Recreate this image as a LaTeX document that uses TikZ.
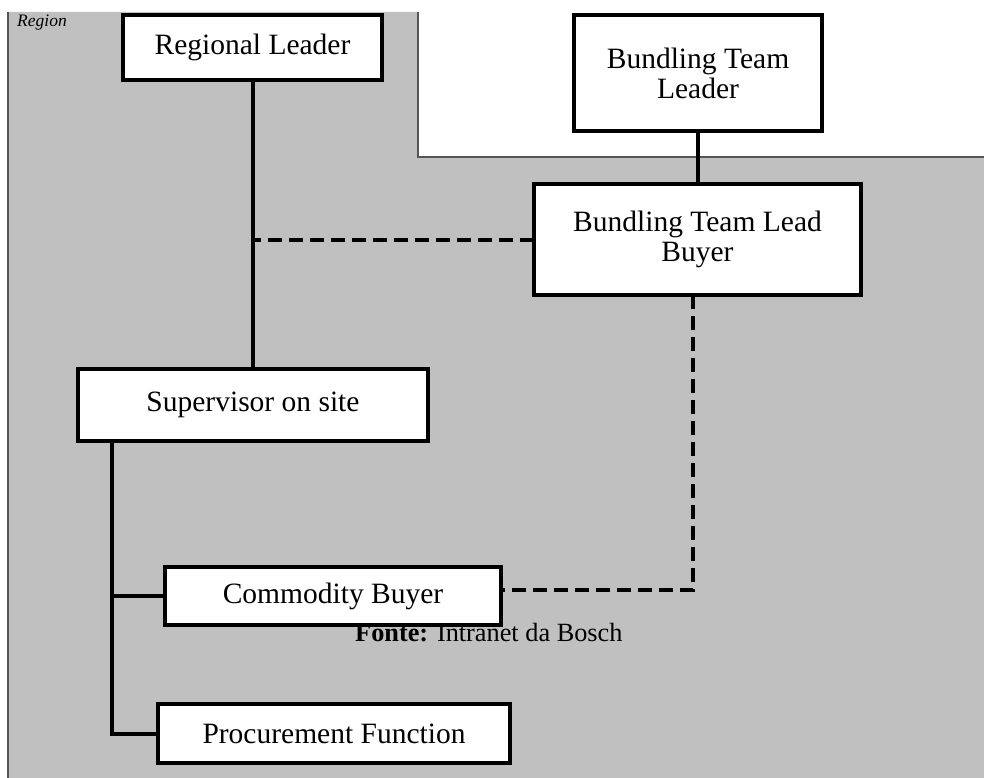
\documentclass[tikz,border=0pt]{standalone}
\usepackage{fontspec}
\setmainfont{Liberation Serif}
\definecolor{regiongray}{RGB}{192,192,192}
\definecolor{edgegray}{RGB}{85,85,85}
\tikzset{
  orgbox/.style={draw=black, line width=4pt, fill=white, rectangle, inner sep=0pt, outer sep=0pt, align=center, font=\fontsize{29.5}{30}\selectfont},
  conn/.style={draw=black, line width=4pt},
  dashline/.style={draw=black, line width=4pt, dash pattern=on 14pt off 7pt},
}
\begin{document}
\begin{tikzpicture}[x=1pt, y=-1pt]
\useasboundingbox (0,0) rectangle (984,778);
% region background
\fill[regiongray] (8,12) -- (418,12) -- (418,157) -- (984,157) -- (984,778) -- (8,778) -- cycle;
\draw[edgegray, line width=1.2pt] (8,12) -- (8,778);
\draw[edgegray, line width=2pt] (418,12) -- (418,157) -- (984,157);
\node[anchor=base west, inner sep=0pt] (reg) at (17,27) {\fontsize{17.5}{17.5}\selectfont\itshape Region};
% source text (partly under the box)
\node[anchor=base west, inner sep=0pt] (src) at (355,641) {\fontsize{26.3}{26}\selectfont\textbf{Fonte:} Intranet da Bosch};
% boxes
\node[orgbox, minimum width=259pt, minimum height=65pt] (rl) at (252.5,47.5) {Regional Leader};
\node[orgbox, minimum width=248pt, minimum height=116pt] (btl) at (698,73) {Bundling Team\\Leader};
\node[orgbox, minimum width=327pt, minimum height=111pt] (btlb) at (697.5,239.5) {Bundling Team Lead\\Buyer};
\node[orgbox, minimum width=350pt, minimum height=72pt] (sup) at (253,405) {Supervisor on site};
\node[orgbox, minimum width=336pt, minimum height=58pt] (cb) at (333,596) {Commodity Buyer};
\node[orgbox, minimum width=352pt, minimum height=59pt] (pf) at (334,733.5) {Procurement Function};
% connectors
\draw[conn] (rl.south) -- (rl.south |- sup.north);
\draw[conn] (btl.south) -- (btl.south |- btlb.north);
\draw[dashline] (btlb.west) -- (btlb.west -| rl.south);
\coordinate (trunk) at ([xshift=34pt]sup.south west);
\draw[conn] (trunk) |- (pf.west);
\draw[conn] (cb.west) -- (cb.west -| trunk);
\coordinate (dd) at ([xshift=-4.5pt]btlb.south);
\draw[dashline] (dd) |- ([yshift=6pt]cb.east);
\end{tikzpicture}
\end{document}
